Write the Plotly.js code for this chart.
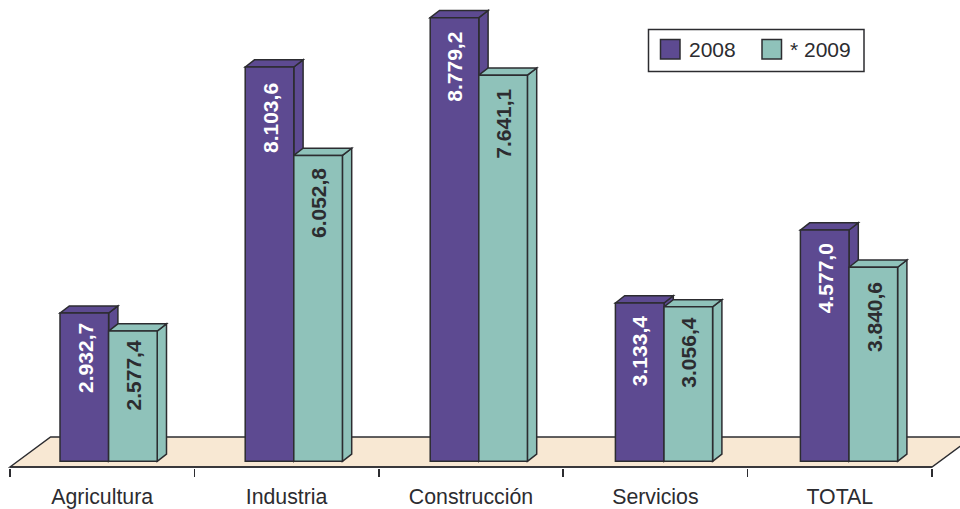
<!DOCTYPE html>
<html>
<head>
<meta charset="utf-8">
<script src="https://cdn.plot.ly/plotly-3.0.1.min.js"></script>
<style>html,body{margin:0;padding:0;background:#fff}#chart{width:960px;height:509px}</style>
</head>
<body>
<div id="chart"></div>
<script>
// ---- data ----
const categories = ["Agricultura", "Industria", "Construcción", "Servicios", "TOTAL"];
const seriesNames = ["2008", "* 2009"];
// The printed labels
const labels2008 = ["2.932,7", "8.103,6", "8.779,2", "3.133,4", "4.577,0"];
const labels2009 = ["2.577,4", "6.052,8", "7.641,1", "3.056,4", "3.840,6"];
// Bar heights as drawn (the Industria 2008 bar is drawn shorter than its label says)
const values2008 = [2932.7, 7803, 8779.2, 3133.4, 4577.0];
const values2009 = [2577.4, 6052.8, 7641.1, 3056.4, 3840.6];

// ---- styling / geometry (pixels) ----
const W = 960, H = 509;
const purple = "#5d4a91", teal = "#8fc2ba", floorCol = "#f8e8d3", ink = "#2c2c30";
const catPx = 184.4, firstCentrePx = 102.2, unitPerPx = 1 / 0.05053, basePx = 461.3, plotBottomPx = 468;
const barOffsetPx = [-42.2, -41.4, -40.8, -40, -39.4];
const barWidthPx = 48.6;
const depthXPx = 9.3, depthYPx = 7.2;
const pad2008 = [9, 15, 13, 12, 12];
const pad2009 = [8, 12, 13, 10, 14];

const xOfPx = p => (p - firstCentrePx) / catPx;
const yOfPx = p => (basePx - p) * unitPerPx;
const dx = depthXPx / catPx, dy = depthYPx * unitPerPx, bw = barWidthPx / catPx;
const centres = categories.map((_, i) => i);
const off1 = barOffsetPx.map(p => p / catPx);
const off2 = off1.map(o => o + bw);
const bounds = [-0.5, 0.5, 1.5, 2.5, 3.5, 4.5];

const lineStyle = {color: ink, width: 1.5};
const shapes = [];

// floor
const fy0 = yOfPx(467), fy1 = yOfPx(437), fdx = 40.6 / catPx;
shapes.push({type: "path", xref: "x", yref: "y", layer: "below",
  path: `M ${bounds[0]} ${fy0} L ${bounds[0] + fdx} ${fy1} L ${bounds[5] + fdx} ${fy1} L ${bounds[5]} ${fy0} Z`,
  fillcolor: floorCol, line: lineStyle});
// axis line
shapes.push({type: "line", xref: "x", yref: "y", layer: "below", x0: bounds[0], x1: bounds[5], y0: fy0, y1: fy0, line: lineStyle});

// 3-D faces of the bars, derived from the same values
function faces(values, offs, color) {
  values.forEach((v, i) => {
    const a = centres[i] + offs[i], b = a + bw;
    shapes.push({type: "path", xref: "x", yref: "y", layer: "below", fillcolor: color, line: lineStyle,
      path: `M ${b} 0 L ${b + dx} ${dy} L ${b + dx} ${v + dy} L ${b} ${v} Z`});
    shapes.push({type: "path", xref: "x", yref: "y", layer: "below", fillcolor: color, line: lineStyle,
      path: `M ${a} ${v} L ${a + dx} ${v + dy} L ${b + dx} ${v + dy} L ${b} ${v} Z`});
  });
}
faces(values2008, off1, purple);
faces(values2009, off2, teal);

// legend (paper coordinates span the plot area, which starts at the page top)
const px = p => p / W, py = p => 1 - p / plotBottomPx;
const paperRect = (x0, y0, x1, y1, fill, w) => ({type: "rect", xref: "paper", yref: "paper", layer: "above",
  x0: px(x0), x1: px(x1), y0: py(y0), y1: py(y1), fillcolor: fill, line: {color: ink, width: w}});
shapes.push(paperRect(648.5, 29.5, 864, 71.5, "#ffffff", 1.5));
shapes.push(paperRect(660.5, 39.5, 680, 59, purple, 1.5));
shapes.push(paperRect(762, 39.5, 781.5, 59, teal, 1.5));

const annotations = [];
function barLabels(labels, values, offs, pads, color, shift) {
  labels.forEach((t, i) => {
    annotations.push({xref: "x", yref: "y", x: centres[i] + offs[i] + bw / 2 + shift / catPx, y: values[i] - pads[i] * unitPerPx,
      text: t, textangle: -90, showarrow: false, xanchor: "center", yanchor: "top", borderpad: 0,
      font: {family: "Liberation Sans, Arial, sans-serif", size: 21, color: color, weight: 700}});
  });
}
barLabels(labels2008, values2008, off1, pad2008, "#ffffff", 0.5);
barLabels(labels2009, values2009, off2, pad2009, ink, 0.5);
[[seriesNames[0], 688], [seriesNames[1], 789]].forEach(([t, x]) => {
  annotations.push({xref: "paper", yref: "paper", x: px(x), y: py(50), text: t, showarrow: false,
    xanchor: "left", yanchor: "middle", borderpad: 0,
    font: {family: "Liberation Sans, Arial, sans-serif", size: 21, color: ink}});
});

const common = {type: "bar", x: centres, width: bw, hoverinfo: "skip", showlegend: false};
const traces = [
  Object.assign({}, common, {name: seriesNames[0], y: values2008, offset: off1, marker: {color: purple, line: lineStyle}}),
  Object.assign({}, common, {name: seriesNames[1], y: values2009, offset: off2, marker: {color: teal, line: lineStyle}})
];

const layout = {
  width: W, height: H,
  margin: {l: 0, r: 0, t: 0, b: H - plotBottomPx, pad: 0},
  paper_bgcolor: "#ffffff", plot_bgcolor: "rgba(0,0,0,0)",
  barmode: "overlay",
  showlegend: false,
  xaxis: {
    type: "linear", range: [xOfPx(0), xOfPx(W)],
    tickmode: "array", tickvals: centres, ticktext: categories,
    ticks: "", ticklen: 0, showgrid: false, zeroline: false, showline: false,
    ticklabelstandoff: 14,
    tickfont: {family: "Liberation Sans, Arial, sans-serif", size: 21.3, color: ink},
    minor: {tickmode: "array", tickvals: bounds, ticks: "outside", ticklen: 8, tickwidth: 1.5, tickcolor: ink, showgrid: false}
  },
  yaxis: {range: [yOfPx(plotBottomPx), yOfPx(0)], visible: false, showgrid: false, zeroline: false},
  shapes: shapes,
  annotations: annotations
};
Plotly.newPlot("chart", traces, layout, {displayModeBar: false, staticPlot: true});
</script>
</body>
</html>
